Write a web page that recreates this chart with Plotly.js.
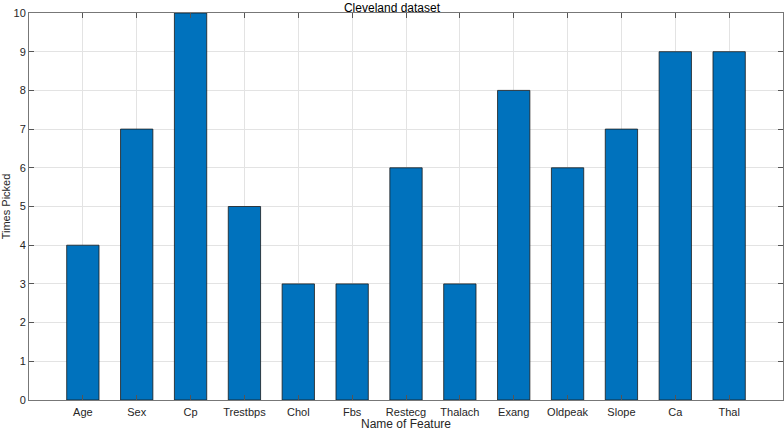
<!DOCTYPE html>
<html>
<head>
<meta charset="utf-8">
<script src="https://cdn.plot.ly/plotly-3.0.1.min.js"></script>
<style>html,body{margin:0;padding:0;background:#fff;}#chart{width:784px;height:431px;}</style>
</head>
<body>
<div id="chart"></div>
<script>
var categories = ["Age","Sex","Cp","Trestbps","Chol","Fbs","Restecg","Thalach","Exang","Oldpeak","Slope","Ca","Thal"];
var timesPicked = [4,7,10,5,3,3,6,3,8,6,7,9,9];
var yTicks = [0,1,2,3,4,5,6,7,8,9,10];

var positions = categories.map(function(_, i){ return i + 1; });

var trace = {
  type: 'bar',
  x: positions,
  y: timesPicked,
  width: 0.6,
  marker: {color: '#0072BD', line: {color: '#1a1a1a', width: 0.8}},
  hoverinfo: 'skip'
};

var font = {family: 'Liberation Sans, Arial, sans-serif', size: 11, color: '#262626'};

var layout = {
  width: 784, height: 431,
  margin: {l: 29, r: 1, t: 13, b: 31},
  paper_bgcolor: '#fff', plot_bgcolor: '#fff',
  font: font,
  showlegend: false,
  title: {text: 'Cleveland dataset', font: {family: font.family, size: 12, color: '#000'}, x: 0.5, xanchor: 'center', y: 0.983, yanchor: 'middle'},
  xaxis: {
    range: [0, 14],
    tickvals: positions,
    ticktext: categories,
    ticks: 'inside', ticklen: 5, tickcolor: '#555',
    ticklabelstandoff: 2,
    showgrid: true, gridcolor: '#e3e3e3', gridwidth: 1,
    showline: true, linecolor: '#777', linewidth: 1, mirror: 'ticks',
    zeroline: false,
    tickfont: font,
    title: {text: 'Name of Feature', font: {family: font.family, size: 12, color: '#262626'}, standoff: 7}
  },
  yaxis: {
    range: [0, 10],
    tickvals: yTicks,
    ticks: 'inside', ticklen: 5, tickcolor: '#555',
    showgrid: true, gridcolor: '#e3e3e3', gridwidth: 1,
    showline: true, linecolor: '#777', linewidth: 1, mirror: 'ticks',
    zeroline: false,
    tickfont: font,
    title: {text: 'Times Picked', font: font, standoff: 4}
  },
  bargap: 0.4
};

Plotly.newPlot('chart', [trace], layout, {displayModeBar: false, staticPlot: true});
</script>
</body>
</html>
